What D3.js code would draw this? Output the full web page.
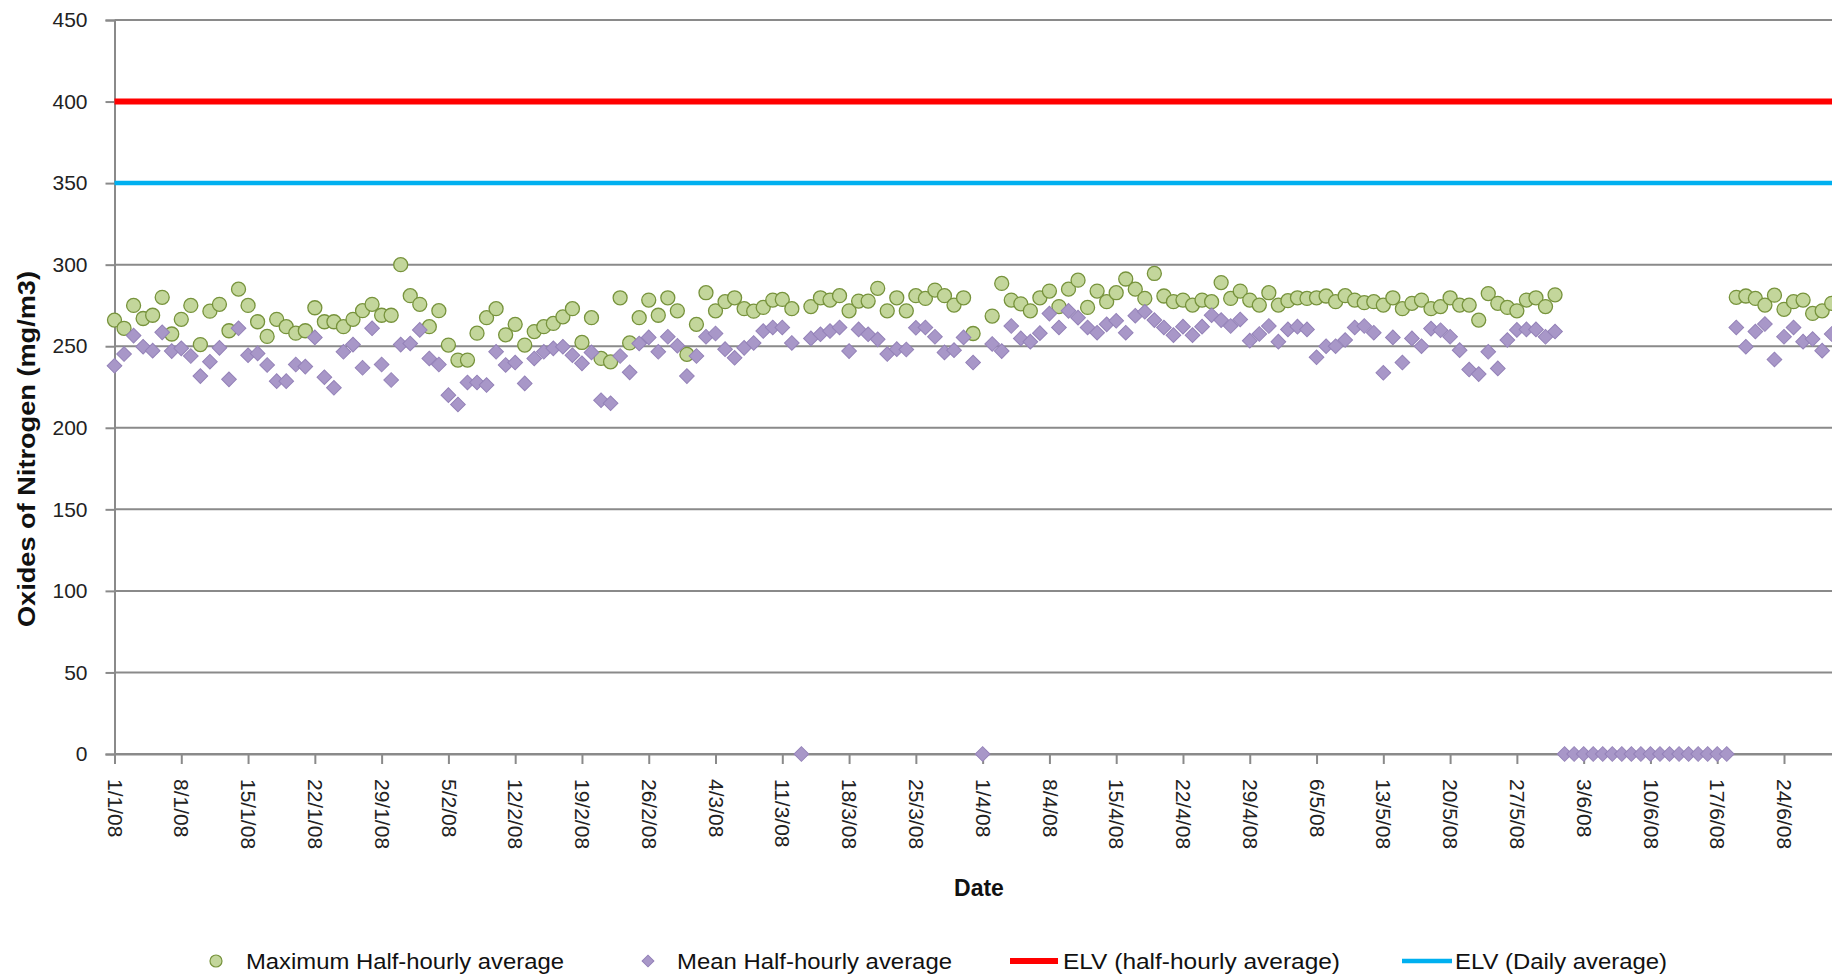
<!DOCTYPE html>
<html>
<head>
<meta charset="utf-8">
<script src="https://cdn.jsdelivr.net/npm/d3@7"></script>
<style>
  body { margin: 0; background: #fff; }
  svg { display: block; font-family: "Liberation Sans", Arial, sans-serif; }
</style>
</head>
<body>
<svg id="chart" width="1832" height="977"></svg>
<script>
// first day of the daily series
const startDate = "1/1/08";

// Maximum half-hourly average, one value per day from 1/1/08 (null = no point)
const maxHalfHourly = [
  266, 261, 275, 267, 269, 280, 257.5,
  266.5, 275, 251, 271.5, 275.7, 259.5, 285,
  275, 265, 256, 266.5, 262, 258, 259.5,
  273.6, 265, 265, 262, 266.5, 271.8, 275.7,
  269, 269, 300, 281, 275.7, 262, 271.8,
  250.7, 241.5, 241.5, 258, 267.5, 273, 257,
  263.4, 250.7, 259, 262, 264, 268, 273,
  252.3, 267.5, 242.5, 240.4, 279.7, 252, 267.5,
  278.3, 269, 279.7, 271.7, 245, 263.4, 282.8,
  271.7, 277.3, 279.7, 273, 271.5, 273.8, 278.3,
  278.7, 273, null, 274.3, 279.7, 278.3, 281,
  271.7, 277.7, 277.7, 285.5, 271.7, 279.7, 271.7,
  281, 279.3, 284.4, 281, 275.2, 279.7, 257.8,
  null, 268.5, 288.5, 278.3, 276, 271.7, 279.7,
  283.8, 274.3, 285, 290.5, 273.8, 283.8, 277.3,
  282.8, 291.2, 285, 279.3, 294.6, 280.8, 277.3,
  278.3, 275.2, 278.3, 277.3, 289, 279.3, 283.8,
  278.3, 275.2, 282.8, 275.2, 277.9, 279.7, 279.3,
  279.7, 280.8, 277.3, 281, 278.3, 276.7, 277.3,
  275.2, 279.7, 273, 276.3, 278.3, 273, 274.3,
  279.7, 275.2, 275.2, 266, 282.3, 276.3, 273.8,
  271.7, 278.3, 279.7, 274.3, 281.5, null, null,
  null, null, null, null, null, null, null,
  null, null, null, null, null, null, null,
  null, null, 280, 280.8, 279.3, 275.2, 281.3,
  272.6, 277.3, 278.3, 270.1, 271.7, 276.3
];

// Mean half-hourly average, one value per day from 1/1/08
const meanHalfHourly = [
  238, 245.2, 256.5, 249.7, 247.3, 258.5, 247,
  248.7, 244, 231.7, 240.5, 249, 229.7, 261,
  244.5, 245.6, 238.5, 228.6, 228.6, 238.8, 237.5,
  255.4, 231, 224.5, 246.6, 251, 236.8, 261,
  238.8, 229.3, 251, 251.7, 260, 242.5, 238.8,
  220, 214.3, 227.8, 227.8, 226.2, 246.6, 238.5,
  240, 227.2, 242.5, 246.6, 248.7, 249.7, 244.5,
  239.5, 246.2, 216.9, 215, 244, 234, 251.7,
  255.4, 246.6, 255.8, 250.3, 231.7, 244, 255.8,
  257.8, 248.2, 242.9, 249, 252, 259.3, 261.5,
  261.5, 252, 0, 254.8, 257.3, 259.3, 261.5,
  247, 260.3, 257.3, 254.2, 245.2, 248.2, 248,
  261.3, 261.5, 255.8, 246.2, 247.6, 255.4, 240,
  0, 251.4, 247, 262.4, 254.8, 252.8, 258,
  270, 261.5, 271.7, 267.5, 261.5, 258.3, 263.4,
  265.6, 258.3, 268.7, 271.1, 266, 261.5, 256.8,
  262, 256.8, 262, 269, 266, 262.4, 266.4,
  253.4, 257.5, 262.4, 252.8, 260.3, 262, 260.3,
  243.2, 250, 250, 253.8, 261.5, 262.4, 258.3,
  233.7, 255.4, 240, 254.8, 250, 260.8, 259.8,
  255.8, 247.6, 235.7, 232.9, 246.6, 236.4, 253.8,
  260, 260.3, 260.3, 255.8, 259, 0, 0,
  0, 0, 0, 0, 0, 0, 0,
  0, 0, 0, 0, 0, 0, 0,
  0, 0, 261.5, 249.7, 259, 263.6, 241.9,
  255.8, 261.5, 252.8, 254.4, 247.3, 257.5
];

// emission limit values
const elvHalfHourly = 400;
const elvDaily = 350;

const yTicks = [0, 50, 100, 150, 200, 250, 300, 350, 400, 450];

const tickLabels = [
  "1/1/08", "8/1/08", "15/1/08", "22/1/08", "29/1/08",
  "5/2/08", "12/2/08", "19/2/08", "26/2/08",
  "4/3/08", "11/3/08", "18/3/08", "25/3/08",
  "1/4/08", "8/4/08", "15/4/08", "22/4/08", "29/4/08",
  "6/5/08", "13/5/08", "20/5/08", "27/5/08",
  "3/6/08", "10/6/08", "17/6/08", "24/6/08"
];

const legendLabels = [
  "Maximum Half-hourly average",
  "Mean Half-hourly average",
  "ELV (half-hourly average)",
  "ELV (Daily average)"
];

const svg = d3.select("#chart");
const W = +svg.attr("width");

const parse = d3.utcParse("%d/%m/%y");
const fmt = d3.utcFormat("%-d/%-m/%y");
const start = parse(startDate);

const plotLeft = 114.5, plotTop = 20, plotBottom = 754, pxPerDay = 9.54, nDays = 182;

const x = d3.scaleUtc()
  .domain([start, d3.utcDay.offset(start, nDays)])
  .range([plotLeft, plotLeft + pxPerDay * nDays]);

const y = d3.scaleLinear()
  .domain([0, 450])
  .range([plotBottom, plotTop]);

const gridColor = "#8a8a8a";

// horizontal gridlines
svg.append("g")
  .selectAll("line")
  .data(yTicks)
  .join("line")
  .attr("x1", plotLeft)
  .attr("x2", W)
  .attr("y1", d => y(d))
  .attr("y2", d => y(d))
  .attr("stroke", gridColor)
  .attr("stroke-width", 2);

// y axis
const yAxis = svg.append("g")
  .attr("transform", `translate(${plotLeft},0)`)
  .call(d3.axisLeft(y).tickValues(yTicks).tickSize(9).tickPadding(18));
yAxis.select(".domain").attr("stroke", gridColor).attr("stroke-width", 2);
yAxis.selectAll(".tick line").attr("stroke", gridColor).attr("stroke-width", 2);
yAxis.selectAll(".tick text")
  .attr("font-family", "Liberation Sans, Arial, sans-serif")
  .attr("font-size", 21)
  .attr("fill", "#222");

// x axis
const xAxis = svg.append("g")
  .attr("transform", `translate(0,${plotBottom})`)
  .call(d3.axisBottom(x)
    .tickValues(tickLabels.map(parse))
    .tickFormat(fmt)
    .tickSize(10)
    .tickSizeOuter(0));
xAxis.select(".domain").attr("stroke", gridColor).attr("stroke-width", 2);
xAxis.selectAll(".tick line").attr("stroke", gridColor).attr("stroke-width", 2);
xAxis.selectAll(".tick text")
  .attr("font-family", "Liberation Sans, Arial, sans-serif")
  .attr("font-size", 21)
  .attr("fill", "#222")
  .attr("text-anchor", "start")
  .attr("transform", "rotate(90)")
  .attr("x", 25)
  .attr("y", 0)
  .attr("dy", "0.35em");

// ELV reference lines
svg.append("line")
  .attr("x1", plotLeft).attr("x2", W)
  .attr("y1", y(elvHalfHourly)).attr("y2", y(elvHalfHourly))
  .attr("stroke", "#ff0000").attr("stroke-width", 6);

svg.append("line")
  .attr("x1", plotLeft).attr("x2", W)
  .attr("y1", y(elvDaily)).attr("y2", y(elvDaily))
  .attr("stroke", "#00b0f0").attr("stroke-width", 4.5);

const dayOf = i => d3.utcDay.offset(start, i);

// maximum half-hourly: green circles
svg.append("g")
  .selectAll("circle")
  .data(maxHalfHourly.map((v, i) => ({ date: dayOf(i), v })).filter(d => d.v !== null))
  .join("circle")
  .attr("cx", d => x(d.date))
  .attr("cy", d => y(d.v))
  .attr("r", 7)
  .attr("fill", "#c3d69b")
  .attr("stroke", "#77933c")
  .attr("stroke-width", 1.3);

// mean half-hourly: purple diamonds
const diamond = d3.symbol().type(d3.symbolSquare).size(108);
svg.append("g")
  .selectAll("path")
  .data(meanHalfHourly.map((v, i) => ({ date: dayOf(i), v })).filter(d => d.v !== null))
  .join("path")
  .attr("d", diamond)
  .attr("transform", d => `translate(${x(d.date)},${y(d.v)}) rotate(45)`)
  .attr("fill", "#a897c8")
  .attr("stroke", "#9482b8")
  .attr("stroke-width", 1);

// axis titles
svg.append("text")
  .attr("transform", "translate(27,449) rotate(-90)")
  .attr("text-anchor", "middle")
  .attr("dy", "0.35em")
  .attr("font-size", 23)
  .attr("font-weight", "bold")
  .attr("textLength", 356)
  .attr("lengthAdjust", "spacingAndGlyphs")
  .attr("fill", "#111")
  .text("Oxides of Nitrogen (mg/m3)");

svg.append("text")
  .attr("x", 979)
  .attr("y", 888)
  .attr("text-anchor", "middle")
  .attr("dy", "0.35em")
  .attr("font-size", 23)
  .attr("font-weight", "bold")
  .attr("fill", "#111")
  .text("Date");

// legend
const ly = 961;
const legend = svg.append("g");
legend.append("circle")
  .attr("cx", 216).attr("cy", ly).attr("r", 6)
  .attr("fill", "#c3d69b").attr("stroke", "#77933c").attr("stroke-width", 1.2);
legend.append("path")
  .attr("d", d3.symbol().type(d3.symbolSquare).size(70))
  .attr("transform", `translate(648,${ly}) rotate(45)`)
  .attr("fill", "#a897c8").attr("stroke", "#9482b8");
legend.append("line")
  .attr("x1", 1010).attr("x2", 1058).attr("y1", ly).attr("y2", ly)
  .attr("stroke", "#ff0000").attr("stroke-width", 6);
legend.append("line")
  .attr("x1", 1402).attr("x2", 1452).attr("y1", ly).attr("y2", ly)
  .attr("stroke", "#00b0f0").attr("stroke-width", 4.5);

const legendText = [
  { x: 246, len: 318 },
  { x: 677, len: 275 },
  { x: 1063, len: 277 },
  { x: 1455, len: 212 }
];
legend.selectAll("text")
  .data(legendLabels)
  .join("text")
  .attr("x", (d, i) => legendText[i].x)
  .attr("y", ly)
  .attr("dy", "0.35em")
  .attr("font-size", 22)
  .attr("textLength", (d, i) => legendText[i].len)
  .attr("lengthAdjust", "spacingAndGlyphs")
  .attr("fill", "#111")
  .text(d => d);
</script>
</body>
</html>
